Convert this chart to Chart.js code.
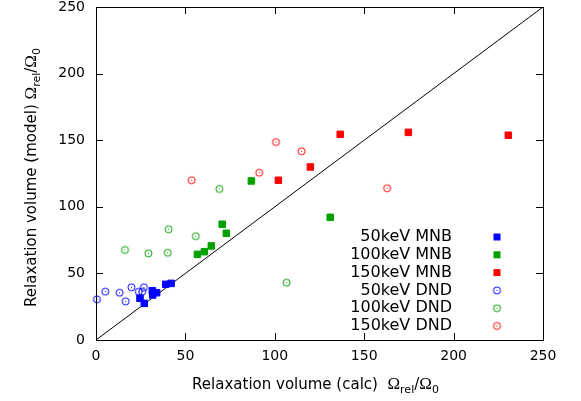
<!DOCTYPE html>
<html>
<head>
<meta charset="utf-8">
<script src="https://cdn.jsdelivr.net/npm/chart.js@4"></script>
<style>
  html, body { margin: 0; padding: 0; background: #fff; }
  #wrap { width: 581px; height: 401px; }
</style>
</head>
<body>
<div id="wrap"><canvas id="chart" width="581" height="401"></canvas></div>
<script>
// ---- data ----
const mnb50X  = [24.6, 27.0, 31.5, 31.7, 33.9, 39.0, 42.0];
const mnb50Y  = [31.3, 27.5, 37.0, 33.8, 35.5, 41.8, 42.5];
const mnb100X = [56.7, 60.6, 64.5, 70.6, 72.9, 86.9, 131.0];
const mnb100Y = [64.3, 66.3, 70.6, 86.9, 80.1, 119.4, 92.1];
const mnb150X = [102.0, 119.9, 136.6, 174.7, 230.6];
const mnb150Y = [119.9, 129.9, 154.4, 155.9, 153.7];
const dnd50X  = [0.5, 5.2, 13.2, 16.6, 19.8, 23.9, 25.9, 26.8];
const dnd50Y  = [30.5, 36.3, 35.5, 29.0, 39.6, 36.3, 36.3, 39.6];
const dnd100X = [16.2, 29.3, 40.1, 40.6, 55.8, 69.0, 106.6];
const dnd100Y = [67.6, 65.0, 65.5, 83.1, 77.9, 113.4, 43.0];
const dnd150X = [53.5, 91.3, 100.7, 115.0, 162.8];
const dnd150Y = [119.9, 125.6, 148.6, 141.7, 113.9];

const seriesLabels = ["50keV MNB", "100keV MNB", "150keV MNB", "50keV DND", "100keV DND", "150keV DND"];
const axisMin = 0, axisMax = 250, tickStep = 50;
const diagX = [0, 250];
const diagY = [0, 250];

const BLUE = "#0000ff", GREEN = "#00a000", RED = "#ff0000";
const FONT = "DejaVu Sans, sans-serif";
const SERIF = "Liberation Serif, serif";

const pts = (xs, ys) => xs.map((x, i) => ({ x: x, y: ys[i] }));

// circle with a dot in the middle (gnuplot style)
function dotCircle(color) {
    const c = document.createElement("canvas");
    c.width = 11; c.height = 11;
    const g = c.getContext("2d");
    g.strokeStyle = color;
    g.lineWidth = 1;
    g.beginPath();
    g.arc(5.5, 5.5, 3.5, 0, Math.PI * 2);
    g.stroke();
    g.fillStyle = color;
    g.fillRect(5, 5, 1, 1);
    return c;
}

function squareSet(label, xs, ys, color) {
    return {
        label: label, data: pts(xs, ys),
        pointStyle: "rect", pointRadius: 4.6, borderWidth: 1,
        backgroundColor: color, borderColor: color, showLine: false, clip: false
    };
}
function circleSet(label, xs, ys, color) {
    return {
        label: label, data: pts(xs, ys),
        pointStyle: dotCircle(color), pointRadius: 5, borderWidth: 0,
        backgroundColor: color, borderColor: color, showLine: false, clip: false
    };
}

// ---- rich text: sans text, serif omega, small subscripts ----
function partFont(p) {
    if (p.sub) return "11px " + FONT;
    if (p.serif) return "17px " + SERIF;
    return "15px " + FONT;
}
function drawRich(ctx, parts, x, y) {
    let w = 0;
    parts.forEach(p => { ctx.font = partFont(p); w += ctx.measureText(p.t).width; });
    let cx = x - w / 2;
    ctx.textAlign = "left";
    ctx.textBaseline = "alphabetic";
    parts.forEach(p => {
        ctx.font = partFont(p);
        ctx.fillText(p.t, cx, p.sub ? y + 4 : y);
        cx += ctx.measureText(p.t).width;
    });
}
const omegaParts = [{ t: "\u03A9", serif: true }, { t: "rel", sub: true },
                    { t: "/" }, { t: "\u03A9", serif: true }, { t: "0", sub: true }];

// ---- frame, inward ticks, titles, legend ----
const decor = {
    id: "decor",
    afterDraw(chart) {
        const ctx = chart.ctx;
        const a = chart.chartArea;
        const xs = chart.scales.x, ys = chart.scales.y;
        ctx.save();
        ctx.strokeStyle = "#000";
        ctx.lineWidth = 1;
        ctx.strokeRect(Math.round(a.left) + 0.5, Math.round(a.top) + 0.5,
                       Math.round(a.right - a.left), Math.round(a.bottom - a.top));
        const tl = 7;
        ctx.beginPath();
        for (let v = axisMin; v <= axisMax; v += tickStep) {
            const px = Math.round(xs.getPixelForValue(v)) + 0.5;
            ctx.moveTo(px, a.bottom); ctx.lineTo(px, a.bottom - tl);
            ctx.moveTo(px, a.top); ctx.lineTo(px, a.top + tl);
            const py = Math.round(ys.getPixelForValue(v)) + 0.5;
            ctx.moveTo(a.left, py); ctx.lineTo(a.left + tl, py);
            ctx.moveTo(a.right, py); ctx.lineTo(a.right - tl, py);
        }
        ctx.stroke();

        ctx.fillStyle = "#000";
        drawRich(ctx, [{ t: "Relaxation volume (calc)  " }].concat(omegaParts),
                 (a.left + a.right) / 2 - 4, 389);
        ctx.save();
        ctx.translate(36, (a.top + a.bottom) / 2 + 4);
        ctx.rotate(-Math.PI / 2);
        drawRich(ctx, [{ t: "Relaxation volume (model) " }].concat(omegaParts), 0, 0);
        ctx.restore();

        // legend: text right-aligned, marker on the right
        const lgTextX = 452, lgMarkX = 497, lgTop = 237, lgStep = 17.8;
        chart.data.datasets.forEach((ds, i) => {
            if (i >= seriesLabels.length) return;
            const ly = lgTop + i * lgStep;
            ctx.font = "16px " + FONT;
            ctx.textAlign = "right";
            ctx.textBaseline = "middle";
            ctx.fillStyle = "#000";
            ctx.fillText(ds.label, lgTextX, ly);
            if (ds.pointStyle === "rect") {
                ctx.fillStyle = ds.backgroundColor;
                ctx.fillRect(lgMarkX - 3.5, ly - 3.5, 7, 7);
            } else {
                ctx.drawImage(ds.pointStyle, lgMarkX - 5.5, ly - 5.5);
            }
        });
        ctx.restore();
    }
};

new Chart(document.getElementById("chart"), {
    type: "scatter",
    data: {
        datasets: [
            squareSet(seriesLabels[0], mnb50X, mnb50Y, BLUE),
            squareSet(seriesLabels[1], mnb100X, mnb100Y, GREEN),
            squareSet(seriesLabels[2], mnb150X, mnb150Y, RED),
            circleSet(seriesLabels[3], dnd50X, dnd50Y, BLUE),
            circleSet(seriesLabels[4], dnd100X, dnd100Y, GREEN),
            circleSet(seriesLabels[5], dnd150X, dnd150Y, RED),
            {
                label: "diag", data: pts(diagX, diagY), showLine: true,
                borderColor: "#000", borderWidth: 1, pointRadius: 0, order: 10
            }
        ]
    },
    options: {
        responsive: false,
        animation: false,
        events: [],
        layout: { padding: { top: 7, right: 38, left: 0, bottom: 0 } },
        plugins: { legend: { display: false }, tooltip: { enabled: false } },
        scales: {
            x: {
                type: "linear", min: axisMin, max: axisMax,
                grid: { display: false, drawTicks: false },
                border: { display: false },
                ticks: { stepSize: tickStep, padding: 8, color: "#000", font: { family: FONT, size: 14 }, maxRotation: 0 },
                afterFit(s) { s.height = 61; s.paddingLeft = 0; s.paddingRight = 0; }
            },
            y: {
                type: "linear", min: axisMin, max: axisMax,
                grid: { display: false, drawTicks: false },
                border: { display: false },
                ticks: { stepSize: tickStep, padding: 11, color: "#000", font: { family: FONT, size: 14 } },
                afterFit(s) { s.width = 96; s.paddingTop = 0; s.paddingBottom = 0; }
            }
        }
    },
    plugins: [decor]
});
</script>
</body>
</html>
